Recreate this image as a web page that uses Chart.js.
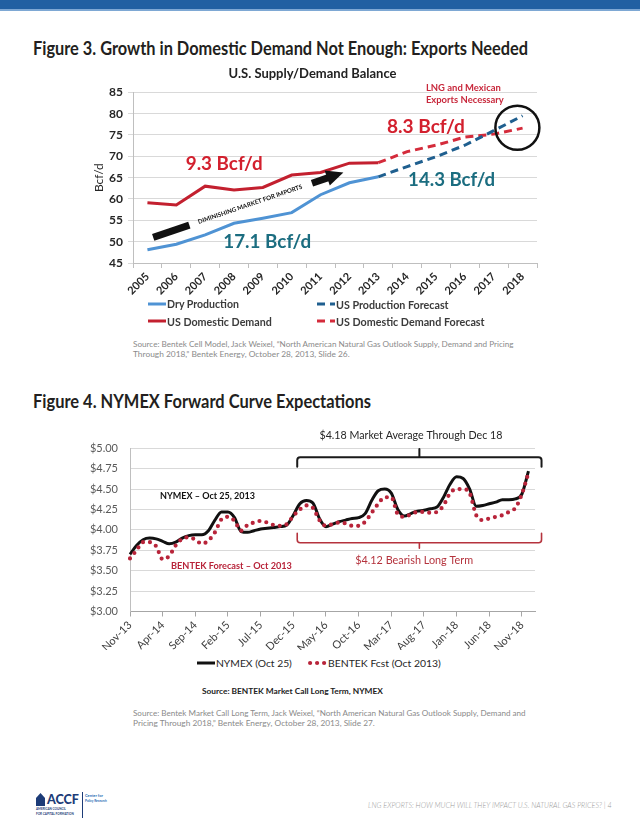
<!DOCTYPE html>
<html><head><meta charset="utf-8">
<script src="https://cdn.jsdelivr.net/npm/chart.js@4.4.0/dist/chart.umd.min.js"></script>
<style>
html,body{margin:0;padding:0;background:#fff}
body{width:640px;height:828px;position:relative;overflow:hidden;font-family:Lato,'Liberation Sans',sans-serif}
.t{position:absolute;white-space:nowrap;line-height:1;transform-origin:0 50%}
#bar{position:absolute;left:0;top:0;width:640px;height:9px;background:#2160a2;border-bottom:2px solid #7ea8d4}
.cw{position:absolute;left:0;width:640px}
</style></head><body>
<div id="bar"></div>

<div class="t" data-x="33" data-y="47" data-w="495" data-m="scale" style="font-size:19px;font-weight:700;color:#231f20">Figure 3. Growth in Domestic Demand Not Enough: Exports Needed</div>
<div class="cw" style="top:60px;height:240px"><canvas id="c1"></canvas></div>
<div class="t" data-x="133" data-y="343.5" data-w="381" style="font-size:9px;font-weight:400;color:#8a8a8a">Source: Bentek Cell Model, Jack Weixel, “North American Natural Gas Outlook Supply, Demand and Pricing</div>
<div class="t" data-x="133" data-y="354" data-w="217" style="font-size:9px;font-weight:400;color:#8a8a8a">Through 2018,” Bentek Energy, October 28, 2013, Slide 26.</div>

<div class="t" data-x="33" data-y="400" data-w="338" data-m="scale" style="font-size:19px;font-weight:700;color:#231f20">Figure 4. NYMEX Forward Curve Expectations</div>
<div class="cw" style="top:420px;height:230px"><canvas id="c2"></canvas></div>
<div class="t" data-x="202" data-y="690.7" data-w="181" style="font-size:9px;font-weight:700;color:#222">Source: BENTEK Market Call Long Term, NYMEX</div>
<div class="t" data-x="133" data-y="712.7" data-w="393" style="font-size:9px;font-weight:400;color:#8a8a8a">Source: Bentek Market Call Long Term, Jack Weixel, “North American Natural Gas Outlook Supply, Demand and</div>
<div class="t" data-x="133" data-y="723" data-w="242" style="font-size:9px;font-weight:400;color:#8a8a8a">Pricing Through 2018,” Bentek Energy, October 28, 2013, Slide 27.</div>

<svg style="position:absolute;left:35px;top:792px" width="11" height="15"><path d="M1 14 L1 6 L5.5 1 L10 6 L10 14 Z" fill="#1d3c78"/></svg>
<div class="t" data-x="47" data-y="800" data-w="32" style="font-size:13px;font-weight:900;color:#1d3c78">ACCF</div>
<div style="position:absolute;left:82px;top:792px;width:1px;height:26px;background:#1d3c78"></div>
<div class="t" data-x="85" data-y="796" data-w="18" style="font-size:5px;font-weight:700;color:#2a6db5">Center for</div>
<div class="t" data-x="85" data-y="801.5" data-w="22" style="font-size:5px;font-weight:700;color:#2a6db5">Policy Research</div>
<div class="t" data-x="36" data-y="810" data-w="30" style="font-size:4px;font-weight:700;color:#1d3c78">AMERICAN COUNCIL</div>
<div class="t" data-x="36" data-y="815" data-w="38" style="font-size:4px;font-weight:700;color:#1d3c78">FOR CAPITAL FORMATION</div>
<div class="t" data-x="368" data-y="806" data-w="244" style="font-size:9px;font-weight:300;font-style:italic;color:#9a9a9a">LNG EXPORTS: HOW MUCH WILL THEY IMPACT U.S. NATURAL GAS PRICES? | 4</div>

<script>
// ---------- Figure 3 data ----------
const years = ['2005','2006','2007','2008','2009','2010','2011','2012','2013','2014','2015','2016','2017','2018'];
const dryProduction      = [48.1, 49.4, 51.6, 54.3, 55.5, 56.8, 61.0, 63.8, 65.2, null, null, null, null, null];
const productionForecast = [null, null, null, null, null, null, null, null, 65.2, 67.6, 69.9, 72.6, 76.0, 79.5];
const domesticDemand     = [59.1, 58.6, 63.0, 62.1, 62.7, 65.6, 66.2, 68.4, 68.5, null, null, null, null, null];
const demandForecast     = [null, null, null, null, null, null, null, null, 68.5, 71.1, 72.6, 74.5, 75.2, 76.6];
const bcfTicks = [45, 50, 55, 60, 65, 70, 75, 80, 85];

// ---------- Figure 4 data ----------
const months = ['Nov-13','Dec-13',
 'Jan-14','Feb-14','Mar-14','Apr-14','May-14','Jun-14','Jul-14','Aug-14','Sep-14','Oct-14','Nov-14','Dec-14',
 'Jan-15','Feb-15','Mar-15','Apr-15','May-15','Jun-15','Jul-15','Aug-15','Sep-15','Oct-15','Nov-15','Dec-15',
 'Jan-16','Feb-16','Mar-16','Apr-16','May-16','Jun-16','Jul-16','Aug-16','Sep-16','Oct-16','Nov-16','Dec-16',
 'Jan-17','Feb-17','Mar-17','Apr-17','May-17','Jun-17','Jul-17','Aug-17','Sep-17','Oct-17','Nov-17','Dec-17',
 'Jan-18','Feb-18','Mar-18','Apr-18','May-18','Jun-18','Jul-18','Aug-18','Sep-18','Oct-18','Nov-18','Dec-18','Jan-19'];
const nymex = [3.70,3.81,3.88,3.90,3.89,3.86,3.83,3.85,3.90,3.93,3.94,3.94,
 3.99,4.12,4.22,4.22,4.15,3.98,3.97,3.99,4.01,4.02,4.03,4.04,
 4.06,4.18,4.32,4.36,4.33,4.14,4.04,4.07,4.10,4.12,4.14,4.15,
 4.20,4.36,4.48,4.50,4.45,4.25,4.17,4.20,4.23,4.24,4.26,4.28,
 4.40,4.56,4.65,4.63,4.50,4.29,4.30,4.32,4.34,4.37,4.37,4.38,
 4.44,4.72,null];
const bentek = [3.65,3.75,3.85,3.85,3.80,3.64,3.68,3.81,3.89,3.91,3.88,3.83,
 3.87,3.97,4.13,4.16,4.11,3.99,4.06,4.09,4.11,4.09,4.06,4.05,
 4.07,4.17,4.25,4.30,4.27,4.12,4.05,4.07,4.09,4.08,4.05,4.05,
 4.10,4.21,4.32,4.40,4.40,4.19,4.16,4.19,4.22,4.22,4.21,4.22,
 4.30,4.45,4.50,4.50,4.45,4.18,4.12,4.14,4.16,4.18,4.22,4.27,
 4.44,4.70,null];
const priceTicks = [3.00, 3.25, 3.50, 3.75, 4.00, 4.25, 4.50, 4.75, 5.00];

// ---------- helpers ----------
function fitEl(el){
  el.style.left = el.dataset.x + 'px';
  el.style.top = el.dataset.y + 'px';
  const tw = +el.dataset.w;
  const w = el.getBoundingClientRect().width;
  if (el.dataset.m === 'scale') {
    el.style.transform = 'translateY(-50%) scaleX(' + (tw / w) + ')';
  } else {
    const fs = parseFloat(getComputedStyle(el).fontSize);
    el.style.fontSize = (fs * tw / w) + 'px';
    el.style.transform = 'translateY(-50%)';
  }
}
document.querySelectorAll('.t').forEach(fitEl);

function fitText(ctx, text, px, py, w, weight, color, align){
  ctx.save();
  ctx.font = weight + ' 20px Lato';
  const m = ctx.measureText(text).width;
  ctx.font = weight + ' ' + (20 * w / m).toFixed(2) + 'px Lato';
  ctx.fillStyle = color;
  ctx.textAlign = align || 'center';
  ctx.textBaseline = 'middle';
  ctx.fillText(text, px, py);
  ctx.restore();
}

function htmlLegend(chart, slots, font, color){
  const NS = 'http://www.w3.org/2000/svg';
  chart.data.datasets.forEach((ds, i) => {
    const s = slots[i]; if (!s) return;
    const svg = document.createElementNS(NS, 'svg');
    svg.setAttribute('width', s.len); svg.setAttribute('height', 8);
    svg.style.cssText = 'position:absolute;left:' + s.sx + 'px;top:' + (s.y - 4) + 'px';
    const ln = document.createElementNS(NS, 'line');
    const cap = ds.borderCapStyle || 'butt';
    const inset = cap === 'round' ? ds.borderWidth / 2 : 0;
    ln.setAttribute('x1', inset); ln.setAttribute('x2', s.len - inset);
    ln.setAttribute('y1', 4); ln.setAttribute('y2', 4);
    ln.setAttribute('stroke', ds.borderColor);
    ln.setAttribute('stroke-width', ds.borderWidth);
    ln.setAttribute('stroke-linecap', cap);
    if (ds.borderDash) ln.setAttribute('stroke-dasharray', ds.borderDash.join(' '));
    svg.appendChild(ln);
    document.body.appendChild(svg);
    const t = document.createElement('div');
    t.className = 't';
    t.textContent = ds.label;
    t.dataset.x = s.sx + s.len + 1; t.dataset.y = s.y; t.dataset.w = s.tw;
    t.style.font = font; t.style.color = color;
    document.body.appendChild(t);
    fitEl(t);
  });
}

// ---------- Figure 3 chart ----------
const RED = '#d3202e', TEAL = '#1b6d80';
const fig3Notes = {
  id: 'fig3Notes',
  afterDraw(chart){
    const {ctx, scales:{x, y}} = chart;
    const X = v => x.getPixelForValue(v), Y = v => y.getPixelForValue(v);
    fitText(ctx, '9.3 Bcf/d', X(2.66), Y(68.3), 77, 'bold', RED);
    fitText(ctx, '17.1 Bcf/d', X(4.15), Y(50.0), 88, 'bold', TEAL);
    fitText(ctx, '8.3 Bcf/d', X(9.65), Y(77.0), 78, 'bold', RED);
    fitText(ctx, '14.3 Bcf/d', X(10.54), Y(64.5), 87, 'bold', TEAL);
    fitText(ctx, 'LNG and Mexican', X(9.65), Y(86.0), 75, 'bold', '#c8283c', 'left');
    fitText(ctx, 'Exports Necessary', X(9.65), Y(83.27), 78, 'bold', '#c8283c', 'left');
    ctx.save();
    ctx.beginPath(); ctx.arc(X(12.82), Y(76.7), 22, 0, 2 * Math.PI);
    ctx.lineWidth = 2.5; ctx.strokeStyle = '#111'; ctx.stroke();
    ctx.restore();
    const ax = X(0.2), ay = Y(51.0), bx = X(6.79), by = Y(66.2);
    const L = Math.hypot(bx - ax, by - ay), ang = Math.atan2(by - ay, bx - ax);
    ctx.save();
    ctx.translate(ax, ay); ctx.rotate(ang);
    ctx.fillStyle = '#111';
    ctx.fillRect(0, -3.5, 0.19 * L, 7);
    ctx.fillRect(0.835 * L, -3.5, 0.09 * L, 7);
    ctx.beginPath(); ctx.moveTo(0.915 * L, -8); ctx.lineTo(L, 0); ctx.lineTo(0.915 * L, 8); ctx.closePath(); ctx.fill();
    fitText(ctx, 'DIMINISHING MARKET FOR IMPORTS', 0.51 * L, 0, 110, 'bold', '#111');
    ctx.restore();
  }
};

const chart1 = new Chart(document.getElementById('c1'), {
  type: 'line',
  data: {
    labels: years,
    datasets: [
      {label:'Dry Production', data: dryProduction, borderColor:'#4f93d4', borderWidth:3, pointRadius:0},
      {label:'US Production Forecast', data: productionForecast, borderColor:'#1f5f8f', borderWidth:3, borderDash:[8,5], pointRadius:0},
      {label:'US Domestic Demand', data: domesticDemand, borderColor:'#c3202f', borderWidth:3, pointRadius:0},
      {label:'US Domestic Demand Forecast', data: demandForecast, borderColor:'#d42b3b', borderWidth:3, borderDash:[8,5], pointRadius:0}
    ]
  },
  options: {
    responsive:true, maintainAspectRatio:false, animation:false,
    layout:{padding:{left:88, right:103, top:0, bottom:0}},
    plugins:{
      legend:{display:false}, tooltip:{enabled:false},
      title:{display:true, text:'U.S. Supply/Demand Balance', color:'#222',
        font:{family:'Lato', weight:'bold', size:13}, padding:{top:6, bottom:10.7}}
    },
    scales:{
      x:{offset:true,
        grid:{offset:true, drawOnChartArea:false, color:'#bfbfbf', tickLength:5},
        border:{color:'#bfbfbf'},
        ticks:{autoSkip:false, minRotation:45, maxRotation:45, color:'#262626', padding:2,
          font:{family:'Lato', weight:'bold', size:11}},
        afterFit(s){ s.height = 37; }},
      y:{min:45, max:85,
        afterBuildTicks(s){ s.ticks = bcfTicks.map(v => ({value:v})); },
        grid:{color:'#d9d9d9', tickLength:5},
        border:{display:true, color:'#bfbfbf'},
        ticks:{color:'#262626', padding:5, font:{family:'Lato', weight:'bold', size:12}},
        title:{display:true, text:'Bcf/d', color:'#262626', font:{family:'Lato', size:12}, padding:{top:4}},
        afterFit(s){ s.width = 45; }}
    }
  },
  plugins:[fig3Notes]
});
htmlLegend(chart1, [
  {sx:148, y:303.7, len:18, tw:72},
  {sx:317, y:303.7, len:18, tw:112.7},
  {sx:148, y:320.7, len:18, tw:105},
  {sx:317, y:320.7, len:18, tw:148.7}
], '700 12px Lato', '#3b3b3b');

// ---------- Figure 4 chart ----------
const DOTRED = '#b8243a';
function bracket(ctx, x0, x1, xc, yl, yh, yt, color, lw){
  ctx.save();
  ctx.strokeStyle = color; ctx.lineWidth = lw; ctx.lineJoin = 'round'; ctx.lineCap = 'round';
  ctx.beginPath();
  ctx.moveTo(x0, yh);
  ctx.arcTo(x0, yl, x1, yl, 3);
  ctx.arcTo(x1, yl, x1, yh, 3);
  ctx.lineTo(x1, yh);
  ctx.moveTo(xc, yl); ctx.lineTo(xc, yt);
  ctx.stroke();
  ctx.restore();
}
const fig4Notes = {
  id: 'fig4Notes',
  afterDraw(chart){
    const {ctx, scales:{x, y}} = chart;
    const X = v => x.getPixelForValue(v), Y = v => y.getPixelForValue(v);
    fitText(ctx, 'NYMEX – Oct 25, 2013', X(4.6), Y(4.41), 95, 'bold', '#111', 'left');
    fitText(ctx, 'BENTEK Forecast – Oct 2013', X(6.28), Y(3.56), 121, 'bold', DOTRED, 'left');
    bracket(ctx, X(25.6), X(63.0), X(44.3), Y(4.89), Y(4.775), Y(4.99), '#1a1a1a', 2);
    bracket(ctx, X(25.6), X(63.0), X(44.3), Y(3.843), Y(3.958), Y(3.775), '#b5333d', 1.6);
    fitText(ctx, '$4.18 Market Average Through Dec 18', X(43.0), Y(5.15), 183, 'normal', '#262626');
    fitText(ctx, '$4.12 Bearish Long Term', X(43.5), Y(3.631), 118, 'normal', '#b5333d');
  }
};

const chart2 = new Chart(document.getElementById('c2'), {
  type: 'line',
  data: {
    labels: months,
    datasets: [
      {label:'NYMEX (Oct 25)', data: nymex, borderColor:'#111', borderWidth:3, pointRadius:0,
        cubicInterpolationMode:'monotone', order:2},
      {label:'BENTEK Fcst (Oct 2013)', data: bentek, borderColor: DOTRED, borderWidth:4.2, pointRadius:0,
        borderDash:[0,7], borderCapStyle:'round', cubicInterpolationMode:'monotone', order:1}
    ]
  },
  options: {
    responsive:true, maintainAspectRatio:false, animation:false,
    layout:{padding:{left:60, right:105, top:28.3, bottom:0}},
    plugins:{legend:{display:false}, tooltip:{enabled:false}},
    scales:{
      x:{
        grid:{drawOnChartArea:false, tickLength:5,
          color: c => (c.index % 5 === 0 && c.index < 61) ? '#a6a6a6' : 'rgba(0,0,0,0)'},
        border:{color:'#a6a6a6'},
        ticks:{autoSkip:false, minRotation:45, maxRotation:45, color:'#404040', padding:2,
          font:{family:'Lato', size:11},
          callback(v, i){ return i % 5 === 0 && i < 61 ? this.getLabelForValue(v) : ''; }},
        afterFit(s){ s.height = 38.5; }},
      y:{min:3, max:5,
        afterBuildTicks(s){ s.ticks = priceTicks.map(v => ({value:v})); },
        grid:{color:'#d9d9d9', drawTicks:false},
        border:{display:true, color:'#bfbfbf'},
        ticks:{color:'#595959', padding:12, font:{family:'Lato', size:11},
          callback: v => '$' + Number(v).toFixed(2)},
        afterFit(s){ s.width = 70; }}
    }
  },
  plugins:[fig4Notes]
});
htmlLegend(chart2, [
  {sx:197, y:663.3, len:18, tw:76},
  {sx:308, y:663.3, len:19, tw:113}
], '400 12px Lato', '#262626');
</script>
</body></html>
